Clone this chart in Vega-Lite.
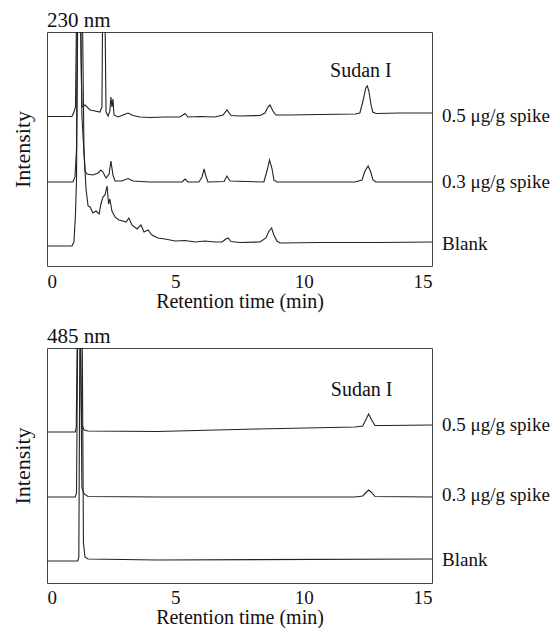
{
  "$schema": "https://vega.github.io/schema/vega-lite/v6.json",
  "padding": {"left": 10, "top": 9, "right": 0, "bottom": 0},
  "config": {
    "font": "Liberation Serif",
    "view": {"stroke": "#444", "strokeWidth": 1},
    "axis": {"grid": false, "domain": false, "ticks": false, "labelFont": "Liberation Serif", "labelFontSize": 19, "labelColor": "#111", "titleFont": "Liberation Serif", "titleFontSize": 20, "titleFontWeight": "normal", "titleColor": "#111"},
    "title": {"font": "Liberation Serif", "fontSize": 21, "fontWeight": "normal", "anchor": "start", "frame": "group", "color": "#111", "offset": 1},
    "concat": {"spacing": 13}
  },
  "datasets": {
    "top": [
      {"s":"a","t":0,"v":149.5},{"s":"a","t":0.97,"v":149.5},{"s":"a","t":1.05,"v":154},{"s":"a","t":1.11,"v":159},{"s":"a","t":1.17,"v":300},{"s":"a","t":1.27,"v":300},{"s":"a","t":1.36,"v":159},{"s":"a","t":1.48,"v":161},{"s":"a","t":1.68,"v":156},{"s":"a","t":1.87,"v":155},{"s":"a","t":2.06,"v":154},{"s":"a","t":2.14,"v":159},{"s":"a","t":2.18,"v":300},{"s":"a","t":2.24,"v":300},{"s":"a","t":2.3,"v":154},{"s":"a","t":2.38,"v":150},{"s":"a","t":2.45,"v":155},{"s":"a","t":2.49,"v":169},{"s":"a","t":2.53,"v":159},{"s":"a","t":2.57,"v":167},{"s":"a","t":2.61,"v":151},{"s":"a","t":2.77,"v":149},{"s":"a","t":2.96,"v":151},{"s":"a","t":3.16,"v":153},{"s":"a","t":3.35,"v":150.5},{"s":"a","t":3.62,"v":149},{"s":"a","t":4.01,"v":148.5},{"s":"a","t":4.6,"v":149},{"s":"a","t":5.18,"v":149},{"s":"a","t":5.38,"v":152.5},{"s":"a","t":5.49,"v":149},{"s":"a","t":5.96,"v":149.5},{"s":"a","t":6.54,"v":149},{"s":"a","t":6.86,"v":151},{"s":"a","t":7.01,"v":156},{"s":"a","t":7.17,"v":150.5},{"s":"a","t":7.52,"v":150},{"s":"a","t":8.3,"v":150.5},{"s":"a","t":8.49,"v":153},{"s":"a","t":8.61,"v":159},{"s":"a","t":8.69,"v":161},{"s":"a","t":8.8,"v":155},{"s":"a","t":8.92,"v":151},{"s":"a","t":9.47,"v":151},{"s":"a","t":10.64,"v":151.5},{"s":"a","t":12.0,"v":152},{"s":"a","t":12.19,"v":153},{"s":"a","t":12.31,"v":165},{"s":"a","t":12.42,"v":178},{"s":"a","t":12.48,"v":180},{"s":"a","t":12.54,"v":175},{"s":"a","t":12.62,"v":162},{"s":"a","t":12.69,"v":154},{"s":"a","t":12.82,"v":152.5},{"s":"a","t":13.75,"v":153},{"s":"a","t":15,"v":153},
      {"s":"b","t":0,"v":84},{"s":"b","t":1.01,"v":84},{"s":"b","t":1.09,"v":89},{"s":"b","t":1.15,"v":117},{"s":"b","t":1.19,"v":300},{"s":"b","t":1.29,"v":300},{"s":"b","t":1.36,"v":150},{"s":"b","t":1.48,"v":95},{"s":"b","t":1.56,"v":92},{"s":"b","t":1.79,"v":91},{"s":"b","t":1.99,"v":93},{"s":"b","t":2.1,"v":96},{"s":"b","t":2.18,"v":94},{"s":"b","t":2.3,"v":88},{"s":"b","t":2.42,"v":92},{"s":"b","t":2.49,"v":105},{"s":"b","t":2.57,"v":91},{"s":"b","t":2.65,"v":85},{"s":"b","t":2.92,"v":85},{"s":"b","t":3.16,"v":87.5},{"s":"b","t":3.35,"v":85},{"s":"b","t":4.01,"v":84},{"s":"b","t":5.26,"v":84},{"s":"b","t":5.38,"v":87},{"s":"b","t":5.49,"v":84},{"s":"b","t":5.92,"v":84},{"s":"b","t":6.04,"v":89},{"s":"b","t":6.12,"v":97},{"s":"b","t":6.19,"v":90},{"s":"b","t":6.27,"v":84},{"s":"b","t":6.9,"v":84.5},{"s":"b","t":7.01,"v":90},{"s":"b","t":7.13,"v":85},{"s":"b","t":8.45,"v":84},{"s":"b","t":8.57,"v":95},{"s":"b","t":8.67,"v":106},{"s":"b","t":8.77,"v":97},{"s":"b","t":8.84,"v":86},{"s":"b","t":8.96,"v":84},{"s":"b","t":9.86,"v":84},{"s":"b","t":12.0,"v":84},{"s":"b","t":12.27,"v":86},{"s":"b","t":12.39,"v":95},{"s":"b","t":12.51,"v":100},{"s":"b","t":12.6,"v":95},{"s":"b","t":12.7,"v":86},{"s":"b","t":12.82,"v":84},{"s":"b","t":15,"v":84},
      {"s":"c","t":0,"v":20},{"s":"c","t":0.97,"v":20},{"s":"c","t":1.05,"v":24},{"s":"c","t":1.11,"v":52},{"s":"c","t":1.15,"v":87},{"s":"c","t":1.21,"v":300},{"s":"c","t":1.36,"v":300},{"s":"c","t":1.44,"v":117},{"s":"c","t":1.52,"v":77},{"s":"c","t":1.6,"v":60},{"s":"c","t":1.68,"v":59},{"s":"c","t":1.79,"v":53},{"s":"c","t":1.91,"v":55},{"s":"c","t":2.03,"v":52},{"s":"c","t":2.1,"v":62},{"s":"c","t":2.18,"v":69},{"s":"c","t":2.26,"v":71},{"s":"c","t":2.34,"v":80},{"s":"c","t":2.4,"v":62},{"s":"c","t":2.45,"v":67},{"s":"c","t":2.53,"v":55},{"s":"c","t":2.65,"v":49},{"s":"c","t":2.8,"v":46},{"s":"c","t":2.96,"v":45},{"s":"c","t":3.08,"v":44},{"s":"c","t":3.19,"v":48},{"s":"c","t":3.31,"v":41},{"s":"c","t":3.51,"v":37},{"s":"c","t":3.66,"v":41},{"s":"c","t":3.78,"v":34},{"s":"c","t":3.93,"v":36},{"s":"c","t":4.09,"v":31},{"s":"c","t":4.32,"v":28},{"s":"c","t":4.6,"v":27},{"s":"c","t":4.99,"v":25},{"s":"c","t":5.38,"v":25.5},{"s":"c","t":5.77,"v":24},{"s":"c","t":6.15,"v":25},{"s":"c","t":6.54,"v":24},{"s":"c","t":6.82,"v":24},{"s":"c","t":6.97,"v":27},{"s":"c","t":7.05,"v":28},{"s":"c","t":7.17,"v":24.5},{"s":"c","t":7.52,"v":23.5},{"s":"c","t":8.3,"v":24},{"s":"c","t":8.53,"v":28},{"s":"c","t":8.65,"v":35},{"s":"c","t":8.75,"v":38},{"s":"c","t":8.84,"v":31},{"s":"c","t":8.96,"v":25},{"s":"c","t":9.08,"v":23},{"s":"c","t":10.64,"v":23.5},{"s":"c","t":12.97,"v":23.5},{"s":"c","t":15,"v":24}
    ],
    "bottom": [
      {"s":"a","t":0,"v":151},{"s":"a","t":1.1,"v":151},{"s":"a","t":1.14,"v":155},{"s":"a","t":1.2,"v":300},{"s":"a","t":1.27,"v":300},{"s":"a","t":1.35,"v":158},{"s":"a","t":1.45,"v":153},{"s":"a","t":1.6,"v":152},{"s":"a","t":4.3,"v":151.5},{"s":"a","t":8.2,"v":154},{"s":"a","t":12.0,"v":156},{"s":"a","t":12.3,"v":157},{"s":"a","t":12.42,"v":163},{"s":"a","t":12.53,"v":169},{"s":"a","t":12.65,"v":163},{"s":"a","t":12.78,"v":157.5},{"s":"a","t":13.2,"v":157.5},{"s":"a","t":15,"v":158},
      {"s":"b","t":0,"v":86},{"s":"b","t":1.1,"v":86},{"s":"b","t":1.15,"v":90},{"s":"b","t":1.21,"v":300},{"s":"b","t":1.29,"v":300},{"s":"b","t":1.36,"v":95},{"s":"b","t":1.45,"v":89},{"s":"b","t":1.6,"v":86.5},{"s":"b","t":4.3,"v":86},{"s":"b","t":8.0,"v":86},{"s":"b","t":12.0,"v":86},{"s":"b","t":12.3,"v":87},{"s":"b","t":12.45,"v":91},{"s":"b","t":12.53,"v":93},{"s":"b","t":12.63,"v":91},{"s":"b","t":12.78,"v":86.5},{"s":"b","t":15,"v":86},
      {"s":"c","t":0,"v":22},{"s":"c","t":1.2,"v":22},{"s":"c","t":1.24,"v":26},{"s":"c","t":1.29,"v":300},{"s":"c","t":1.36,"v":300},{"s":"c","t":1.42,"v":40},{"s":"c","t":1.48,"v":26},{"s":"c","t":1.6,"v":24},{"s":"c","t":4.3,"v":23},{"s":"c","t":15,"v":24}
    ],
    "topLabels": [
      {"label":"0.5 μg/g spike","t":15,"v":150},{"label":"0.3 μg/g spike","t":15,"v":84},{"label":"Blank","t":15,"v":22}
    ],
    "topPeak": [{"label":"Sudan I","t":12.23,"v":195}],
    "bottomLabels": [
      {"label":"0.5 μg/g spike","t":15,"v":158},{"label":"0.3 μg/g spike","t":15,"v":88},{"label":"Blank","t":15,"v":23}
    ],
    "bottomPeak": [{"label":"Sudan I","t":12.26,"v":193}]
  },
  "vconcat": [
    {
      "title": {"text": "230 nm", "font": "Liberation Serif", "fontSize": 21, "fontWeight": "normal", "anchor": "start", "frame": "group"},
      "width": 385,
      "height": 234,
      "layer": [
        {
          "data": {"name": "top"},
          "mark": {"type": "line", "clip": true, "color": "#222", "strokeWidth": 1.1},
          "encoding": {
            "x": {"field": "t", "type": "quantitative", "scale": {"domain": [0, 15], "nice": false}, "axis": {"values": [0, 5, 10, 15], "title": "Retention time (min)", "labelPadding": 6, "titlePadding": 0}},
            "y": {"field": "v", "type": "quantitative", "scale": {"domain": [0, 234], "nice": false}, "axis": {"title": "Intensity", "labels": false, "titleFontSize": 22, "titlePadding": 13}},
            "detail": {"field": "s"}
          }
        },
        {
          "data": {"name": "topLabels"},
          "mark": {"type": "text", "align": "left", "baseline": "middle", "dx": 10, "fontSize": 19, "font": "Liberation Serif", "color": "#111"},
          "encoding": {
            "x": {"field": "t", "type": "quantitative"},
            "y": {"field": "v", "type": "quantitative"},
            "text": {"field": "label"}
          }
        },
        {
          "data": {"name": "topPeak"},
          "mark": {"type": "text", "align": "center", "baseline": "middle", "fontSize": 20, "font": "Liberation Serif", "color": "#111"},
          "encoding": {
            "x": {"field": "t", "type": "quantitative"},
            "y": {"field": "v", "type": "quantitative"},
            "text": {"field": "label"}
          }
        }
      ]
    },
    {
      "title": {"text": "485 nm", "font": "Liberation Serif", "fontSize": 21, "fontWeight": "normal", "anchor": "start", "frame": "group"},
      "width": 385,
      "height": 235,
      "layer": [
        {
          "data": {"name": "bottom"},
          "mark": {"type": "line", "clip": true, "color": "#222", "strokeWidth": 1.1},
          "encoding": {
            "x": {"field": "t", "type": "quantitative", "scale": {"domain": [0, 15], "nice": false}, "axis": {"values": [0, 5, 10, 15], "title": "Retention time (min)", "labelPadding": 5, "titlePadding": 0}},
            "y": {"field": "v", "type": "quantitative", "scale": {"domain": [0, 235], "nice": false}, "axis": {"title": "Intensity", "labels": false, "titleFontSize": 22, "titlePadding": 13}},
            "detail": {"field": "s"}
          }
        },
        {
          "data": {"name": "bottomLabels"},
          "mark": {"type": "text", "align": "left", "baseline": "middle", "dx": 10, "fontSize": 19, "font": "Liberation Serif", "color": "#111"},
          "encoding": {
            "x": {"field": "t", "type": "quantitative"},
            "y": {"field": "v", "type": "quantitative"},
            "text": {"field": "label"}
          }
        },
        {
          "data": {"name": "bottomPeak"},
          "mark": {"type": "text", "align": "center", "baseline": "middle", "fontSize": 20, "font": "Liberation Serif", "color": "#111"},
          "encoding": {
            "x": {"field": "t", "type": "quantitative"},
            "y": {"field": "v", "type": "quantitative"},
            "text": {"field": "label"}
          }
        }
      ]
    }
  ]
}
